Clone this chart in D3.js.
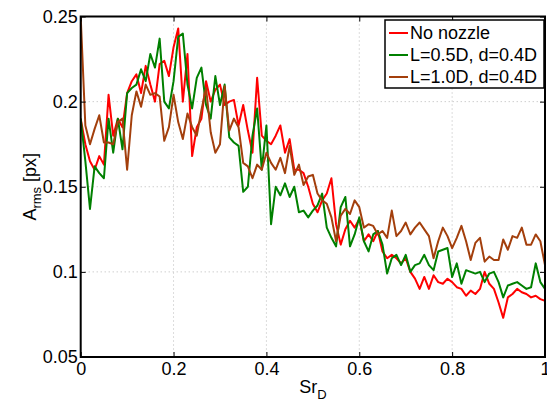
<!DOCTYPE html>
<html>
<head>
<meta charset="utf-8">
<script src="https://d3js.org/d3.v7.min.js"></script>
<style>
  body { margin: 0; background: #fff; }
  text { font-family: "Liberation Sans", Arial, Helvetica, sans-serif; }
</style>
</head>
<body>
<svg id="chart" width="547" height="402"></svg>
<script>
// Strouhal number grid, step 0.01 from 0 to 1
const srStep = 0.01;

const noNozzle = [
  0.190, 0.175, 0.165, 0.160, 0.168, 0.163, 0.204, 0.180, 0.190, 0.185,
  0.205, 0.212, 0.216, 0.205, 0.221, 0.210, 0.200, 0.222, 0.224, 0.215,
  0.232, 0.243, 0.200, 0.228, 0.168, 0.185, 0.190, 0.212, 0.200, 0.207,
  0.210, 0.198, 0.200, 0.201, 0.186, 0.198, 0.183, 0.170, 0.214, 0.180,
  0.177, 0.175, 0.180, 0.186, 0.170, 0.178, 0.160, 0.160, 0.158, 0.150,
  0.140, 0.135, 0.142, 0.146, 0.155, 0.128, 0.116, 0.125, 0.130, 0.126,
  0.131, 0.118, 0.122, 0.118, 0.124, 0.112, 0.108, 0.110, 0.108, 0.105,
  0.108, 0.100, 0.096, 0.090, 0.097, 0.090, 0.098, 0.094, 0.093, 0.096,
  0.094, 0.091, 0.090, 0.086, 0.089, 0.087, 0.090, 0.100, 0.093, 0.090,
  0.082, 0.073, 0.085, 0.087, 0.090, 0.088, 0.087, 0.085, 0.086, 0.084,
  0.083
];

const nozzleL05 = [
  0.190, 0.165, 0.137, 0.162, 0.158, 0.155, 0.190, 0.170, 0.190, 0.172,
  0.205, 0.208, 0.210, 0.219, 0.212, 0.228, 0.220, 0.237, 0.200, 0.196,
  0.212, 0.238, 0.240, 0.210, 0.196, 0.214, 0.220, 0.198, 0.190, 0.215,
  0.198, 0.210, 0.179, 0.176, 0.174, 0.147, 0.150, 0.180, 0.196, 0.160,
  0.186, 0.128, 0.150, 0.145, 0.152, 0.144, 0.150, 0.135, 0.136, 0.132,
  0.136, 0.139, 0.146, 0.126, 0.120, 0.115, 0.138, 0.144, 0.115, 0.122,
  0.132, 0.118, 0.112, 0.122, 0.124, 0.116, 0.099, 0.108, 0.110, 0.104,
  0.110, 0.100, 0.104, 0.105, 0.110, 0.104, 0.101, 0.112, 0.113, 0.114,
  0.097, 0.105, 0.093, 0.101, 0.100, 0.099, 0.100, 0.094, 0.099, 0.100,
  0.094, 0.085, 0.092, 0.093, 0.094, 0.092, 0.090, 0.091, 0.105, 0.094,
  0.090
];

const nozzleL10 = [
  0.250, 0.186, 0.175, 0.184, 0.192, 0.176, 0.176, 0.175, 0.188, 0.190,
  0.160, 0.192, 0.206, 0.197, 0.210, 0.204, 0.205, 0.203, 0.177, 0.185,
  0.204, 0.188, 0.178, 0.193, 0.185, 0.180, 0.195, 0.208, 0.182, 0.170,
  0.175, 0.209, 0.183, 0.190, 0.185, 0.164, 0.162, 0.155, 0.163, 0.160,
  0.170, 0.164, 0.160, 0.167, 0.158, 0.174, 0.157, 0.163, 0.151, 0.156,
  0.157, 0.146, 0.142, 0.140, 0.132, 0.118, 0.133, 0.137, 0.134, 0.142,
  0.138, 0.126, 0.128, 0.127, 0.122, 0.124, 0.120, 0.136, 0.121, 0.124,
  0.129, 0.122, 0.126, 0.129, 0.125, 0.121, 0.108, 0.118, 0.126, 0.121,
  0.114, 0.120, 0.127, 0.118, 0.107, 0.117, 0.120, 0.106, 0.109, 0.107,
  0.107, 0.119, 0.113, 0.121, 0.120, 0.126, 0.116, 0.116, 0.122, 0.118,
  0.104
];

const seriesNames = ["No nozzle", "L=0.5D, d=0.4D", "L=1.0D, d=0.4D"];
const seriesColors = ["#ff0000", "#008000", "#a33f0c"];
const xTicks = [0, 0.2, 0.4, 0.6, 0.8, 1];
const yTicks = [0.05, 0.1, 0.15, 0.2, 0.25];

const svg = d3.select("#chart");
const pLeft = 80.7, pRight = 545, pTop = 16.5, pBottom = 357;
const fontSize = 18;

const x = d3.scaleLinear().domain([0, 1]).range([pLeft, pRight]);
const y = d3.scaleLinear().domain([0.05, 0.25]).range([pBottom, pTop]);

// grid
const grid = svg.append("g").attr("stroke", "#b8b8b8").attr("stroke-width", 1)
  .attr("stroke-dasharray", "1,3");
grid.selectAll("line.gx").data(xTicks.slice(1, -1)).join("line")
  .attr("x1", d => x(d)).attr("x2", d => x(d)).attr("y1", pTop).attr("y2", pBottom);
grid.selectAll("line.gy").data(yTicks.slice(1, -1)).join("line")
  .attr("x1", pLeft).attr("x2", pRight).attr("y1", d => y(d)).attr("y2", d => y(d));

// lines
svg.append("clipPath").attr("id", "clip").append("rect")
  .attr("x", pLeft).attr("y", pTop).attr("width", pRight - pLeft).attr("height", pBottom - pTop);

const line = d3.line().x((d, i) => x(i * srStep)).y(d => y(d));
const allSeries = [noNozzle, nozzleL05, nozzleL10];
svg.append("g").attr("clip-path", "url(#clip)")
  .selectAll("path").data(allSeries).join("path")
  .attr("d", line)
  .attr("fill", "none")
  .attr("stroke", (d, i) => seriesColors[i])
  .attr("stroke-width", 2)
  .attr("stroke-linejoin", "round");

// axes (inward ticks on all four sides, MATLAB style)
const tickLen = 5;
const xAxisB = d3.axisBottom(x).tickValues(xTicks).tickFormat(d3.format("")).tickSize(-tickLen).tickPadding(5);
const xAxisT = d3.axisTop(x).tickValues(xTicks).tickFormat("").tickSize(-tickLen);
const yAxisL = d3.axisLeft(y).tickValues(yTicks).tickFormat(d3.format("")).tickSize(-tickLen).tickPadding(3);
const yAxisR = d3.axisRight(y).tickValues(yTicks).tickFormat("").tickSize(-tickLen);

function styleAxis(g) {
  g.select(".domain").remove();
  g.selectAll(".tick line").attr("stroke", "#000").attr("stroke-width", 1);
  g.selectAll(".tick text").attr("fill", "#000").style("font-size", fontSize + "px")
    .style("font-family", "'Liberation Sans', Arial, sans-serif");
}
svg.append("g").attr("transform", `translate(0,${pBottom})`).call(xAxisB).call(styleAxis);
svg.append("g").attr("transform", `translate(0,${pTop})`).call(xAxisT).call(styleAxis);
svg.append("g").attr("transform", `translate(${pLeft},0)`).call(yAxisL).call(styleAxis);
svg.append("g").attr("transform", `translate(${pRight},0)`).call(yAxisR).call(styleAxis);

// box
svg.append("rect").attr("x", pLeft).attr("y", pTop).attr("width", pRight - pLeft).attr("height", pBottom - pTop)
  .attr("fill", "none").attr("stroke", "#000").attr("stroke-width", 2);

// axis labels
const xl = svg.append("text").attr("x", (pLeft + pRight) / 2).attr("y", 393)
  .attr("text-anchor", "middle").style("font-size", fontSize + "px");
xl.append("tspan").text("Sr");
xl.append("tspan").attr("dy", 6).style("font-size", "13px").text("D");

const yl = svg.append("text").attr("transform", `translate(36,${(pTop + pBottom) / 2}) rotate(-90)`)
  .attr("text-anchor", "middle").style("font-size", fontSize + "px");
yl.append("tspan").text("A");
yl.append("tspan").attr("dy", 5).style("font-size", "13px").text("rms");
yl.append("tspan").attr("dy", -5).text(" [px]");

// legend
const lg = svg.append("g");
lg.append("rect").attr("x", 385).attr("y", 20).attr("width", 159).attr("height", 68)
  .attr("fill", "#fff").attr("stroke", "#000").attr("stroke-width", 1.5);
const rows = lg.selectAll("g.row").data(seriesNames).join("g")
  .attr("transform", (d, i) => `translate(0,${33 + i * 22})`);
rows.append("line").attr("x1", 389).attr("x2", 408).attr("y1", 0).attr("y2", 0)
  .attr("stroke", (d, i) => seriesColors[i]).attr("stroke-width", 2);
rows.append("text").attr("x", 410).attr("dy", "0.36em").style("font-size", fontSize + "px").text(d => d);
</script>
</body>
</html>
